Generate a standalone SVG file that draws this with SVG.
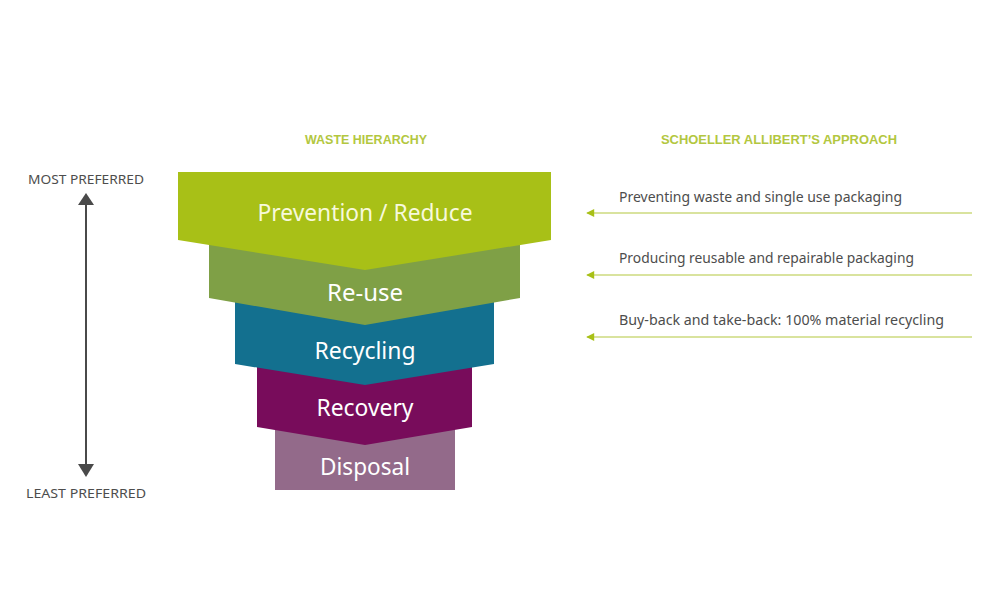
<svg xmlns="http://www.w3.org/2000/svg" width="1000" height="614" viewBox="0 0 1000 614">
<defs>
<style>
.hdr{font-family:"Liberation Sans",Arial,sans-serif;font-weight:bold;font-size:12.5px;fill:#B3C73F;text-anchor:middle}
.lvl{font-family:"Noto Sans","Liberation Sans",sans-serif;font-size:23px;fill:#FFFFFF;text-anchor:middle}
.note{font-family:"Noto Sans","Liberation Sans",sans-serif;font-size:14px;fill:#4D4D4D}
.pref{font-family:"Noto Sans","Liberation Sans",sans-serif;font-size:13px;fill:#4D4D4D;text-anchor:middle}
.ln{stroke:#B3C73F;stroke-width:1.2;fill:none}
</style>
<marker id="ga" viewBox="0 0 10 10" refX="9" refY="5" markerWidth="11" markerHeight="8" markerUnits="userSpaceOnUse" orient="auto">
<path d="M0,0 L10,5 L0,10 z" fill="#A8C017"/>
</marker>
</defs>
<rect width="1000" height="614" fill="#FFFFFF"/>
<text class="hdr" x="366" y="144" textLength="122" lengthAdjust="spacingAndGlyphs">WASTE HIERARCHY</text>
<text class="hdr" x="779" y="144" textLength="236" lengthAdjust="spacingAndGlyphs">SCHOELLER ALLIBERT’S APPROACH</text>

<g id="disposal">
<rect x="275" y="425" width="180" height="65" fill="#936A8A"/>
<text class="lvl" x="365" y="475" textLength="90" lengthAdjust="spacingAndGlyphs">Disposal</text>
</g>
<g id="recovery">
<polygon points="257,365 472,365 472,427 365,445 257,427" fill="#780C5B"/>
<text class="lvl" x="365" y="416" textLength="97" lengthAdjust="spacingAndGlyphs">Recovery</text>
</g>
<g id="recycling">
<polygon points="235,300 494,300 494,364 365,385 235,364" fill="#13708F"/>
<text class="lvl" x="365" y="359" textLength="101" lengthAdjust="spacingAndGlyphs">Recycling</text>
</g>
<g id="reuse">
<polygon points="209,240 520,240 520,298 365,325 209,298" fill="#7FA046"/>
<text class="lvl" x="365" y="301" textLength="76" lengthAdjust="spacingAndGlyphs">Re-use</text>
</g>
<g id="prevention">
<polygon points="178,172 551,172 551,240 365,270 178,240" fill="#A8C017"/>
<text class="lvl" x="365" y="221" style="fill:#F7F9DC" textLength="215" lengthAdjust="spacingAndGlyphs">Prevention / Reduce</text>
</g>

<g id="approach1">
<text class="note" x="619" y="202" textLength="283" lengthAdjust="spacingAndGlyphs">Preventing waste and single use packaging</text>
</g>
<g id="approach2">
<text class="note" x="619" y="263" textLength="295" lengthAdjust="spacingAndGlyphs">Producing reusable and repairable packaging</text>
</g>
<g id="approach3">
<text class="note" x="619" y="325" textLength="325" lengthAdjust="spacingAndGlyphs">Buy-back and take-back: 100% material recycling</text>
</g>

<g id="axis">
<text class="pref" x="86" y="184" textLength="116" lengthAdjust="spacingAndGlyphs">MOST PREFERRED</text>
<text class="pref" x="86" y="498" textLength="120" lengthAdjust="spacingAndGlyphs">LEAST PREFERRED</text>
</g>

<g id="connectors">
<line class="ln" x1="972" y1="213" x2="587" y2="213" marker-end="url(#ga)"/>
<line class="ln" x1="972" y1="275" x2="587" y2="275" marker-end="url(#ga)"/>
<line class="ln" x1="972" y1="337" x2="587" y2="337" marker-end="url(#ga)"/>
<line x1="86" y1="204" x2="86" y2="466" stroke="#4A4A4A" stroke-width="2"/>
<polygon points="86,193 78,205 94,205" fill="#4A4A4A"/>
<polygon points="86,477 78,464 94,464" fill="#4A4A4A"/>
</g>
</svg>
